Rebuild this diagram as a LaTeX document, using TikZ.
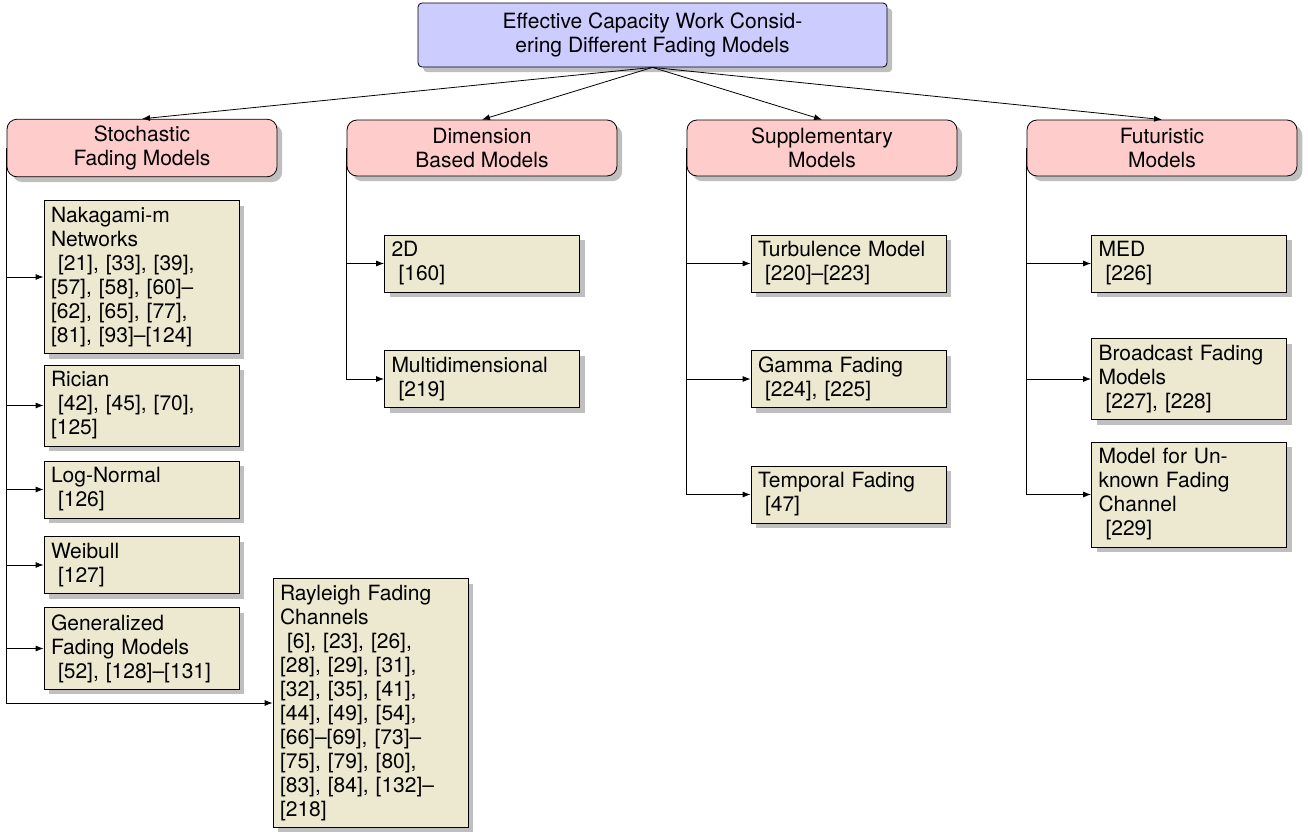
\documentclass[tikz,border=0pt]{standalone}
\usepackage{fontspec}
\setmainfont{TeX Gyre Heros}
\usetikzlibrary{positioning}
\usetikzlibrary{shadows}
\usetikzlibrary{arrows.meta}
\definecolor{leafbg}{RGB}{237,232,208}
\tikzset{
  rootbox/.style={draw, rounded corners=2pt, fill=blue!20, drop shadow,
    align=center, minimum width=234.5pt, minimum height=32pt},
  catbox/.style={draw, rounded corners=5pt, fill=red!20, drop shadow,
    align=center, minimum width=135pt, minimum height=28pt},
  leafbox/.style={draw, fill=leafbg, drop shadow, inner xsep=3.5pt,
    text width=90.5pt, align=left},
  arr/.style={-{Latex[length=4pt,width=3pt]}},
}

\begin{document}
\begin{tikzpicture}[x=0.5pt,y=-0.5pt,node distance=57.75pt,on grid,font=\fontsize{10.5}{12}\selectfont]
   \useasboundingbox (0,0) rectangle (1308,831);
   \node[rootbox] (root) at (652.5,35) {Effective Capacity Work Consid-\\ering Different Fading Models};
   \node[catbox] (stoch) at (142,148) {Stochastic\\Fading Models};
   \node[catbox] (dims) [right=170pt of stoch] {Dimension\\Based Models};
   \node[catbox] (supp) [right=170pt of dims] {Supplementary\\Models};
   \node[catbox] (futu) [right=170pt of supp] {Futuristic\\Models};
   % stochastic models
   \node[leafbox] (naka) at (141.5,277) {Nakagami-m\\Networks\\\mbox{} [21], [33], [39],\\{}[57], [58], [60]--\\{}[62], [65], [77],\\{}[81], [93]--[124]};
   \node[leafbox] (rice) at (141.5,405.5) {Rician\\\mbox{} [42], [45], [70],\\{}[125]};
   \node[leafbox] (logn) at (141.5,489.5) {Log-Normal\\\mbox{} [126]};
   \node[leafbox] (weib) at (141.5,565) {Weibull\\\mbox{} [127]};
   \node[leafbox] (gene) at (141.5,648.5) {Generalized\\Fading Models\\\mbox{} [52], [128]--[131]};
   \node[leafbox] (rayl) at (370.5,703) {Rayleigh Fading\\Channels\\\mbox{} [6], [23], [26],\\{}[28], [29], [31],\\{}[32], [35], [41],\\{}[44], [49], [54],\\{}[66]--[69], [73]--\\{}[75], [79], [80],\\{}[83], [84], [132]--\\{}[218]};
   % dimension based models
   \node[leafbox] (twod) [below=of dims] {2D\\\mbox{} [160]};
   \node[leafbox] (mult) [below=of twod] {Multidimensional\\\mbox{} [219]};
   % supplementary models
   \node[leafbox] (turb) [below right=57.75pt and 13.25pt of supp] {Turbulence Model\\\mbox{} [220]--[223]};
   \node[leafbox] (gamm) [below=of turb] {Gamma Fading\\\mbox{} [224], [225]};
   \node[leafbox] (temp) [below=of gamm] {Temporal Fading\\\mbox{} [47]};
   % futuristic models
   \node[leafbox] (medd) [below right=57.75pt and 13.5pt of futu] {MED\\\mbox{} [226]};
   \node[leafbox] (broa) [below=of medd] {Broadcast Fading\\Models\\\mbox{} [227], [228]};
   \node[leafbox] (unkn) [below=of broa] {Model for Un-\\known Fading\\Channel\\\mbox{} [229]};

   \foreach \c in {stoch,dims,supp,futu}
     \draw[arr] (root.south) -- (\c.north);
   \foreach \c/\l in {stoch/naka,stoch/rice,stoch/logn,stoch/weib,stoch/gene,stoch/rayl,
                     dims/twod,dims/mult,supp/turb,supp/gamm,supp/temp,
                     futu/medd,futu/broa,futu/unkn}
     \draw[arr] (\c.west) |- (\l.west);
\end{tikzpicture}
\end{document}
